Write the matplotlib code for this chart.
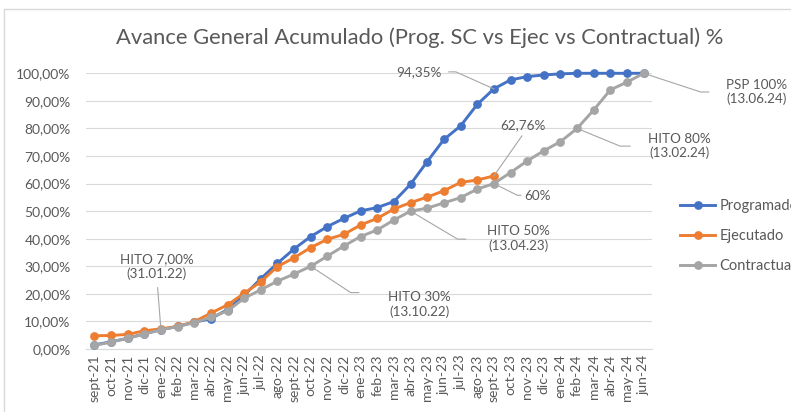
import matplotlib
matplotlib.use("Agg")
import matplotlib.pyplot as plt
from matplotlib.lines import Line2D
from matplotlib.patches import Rectangle
from matplotlib.transforms import IdentityTransform
from matplotlib.ticker import FuncFormatter, MultipleLocator

plt.rcParams['font.family'] = ['Lato', 'DejaVu Sans']

months = ['sept-21', 'oct-21', 'nov-21', 'dic-21', 'ene-22', 'feb-22', 'mar-22', 'abr-22',
          'may-22', 'jun-22', 'jul-22', 'ago-22', 'sept-22', 'oct-22', 'nov-22', 'dic-22',
          'ene-23', 'feb-23', 'mar-23', 'abr-23', 'may-23', 'jun-23', 'jul-23', 'ago-23',
          'sept-23', 'oct-23', 'nov-23', 'dic-23', 'ene-24', 'feb-24', 'mar-24', 'abr-24',
          'may-24', 'jun-24']

programado = [1.5, 2.6, 3.9, 5.5, 7.0, 8.2, 9.7, 11.0, 14.3, 19.5, 25.5, 31.1, 36.3, 40.8,
              44.4, 47.4, 50.1, 51.3, 53.5, 59.8, 68.0, 76.0, 80.9, 88.7, 94.35, 97.6, 98.8,
              99.4, 99.8, 100.0, 100.0, 100.0, 100.0, 100.0]
ejecutado = [4.8, 4.9, 5.3, 6.6, 7.3, 8.2, 9.9, 13.0, 16.0, 20.2, 24.4, 29.9, 33.1, 36.8,
             39.8, 41.6, 45.0, 47.4, 50.8, 53.1, 55.1, 57.4, 60.4, 61.3, 62.76]
contractual = [1.3, 2.5, 3.9, 5.4, 7.0, 8.1, 9.6, 11.5, 13.8, 18.4, 21.5, 24.6, 27.2, 30.0,
               33.7, 37.4, 40.8, 43.2, 46.8, 50.0, 51.1, 53.0, 54.9, 58.0, 60.0, 64.0, 68.2,
               71.9, 75.2, 80.0, 86.7, 94.0, 96.8, 100.0]

series_names = ['Programado', 'Ejecutado', 'Contractual']
colors = ['#4472C4', '#ED7D31', '#A5A5A5']
title = 'Avance General Acumulado (Prog. SC vs Ejec vs Contractual) %'

# labels: (series, index, text)
labels = [
    ('Programado', 24, '94,35%'),
    ('Ejecutado', 24, '62,76%'),
    ('Contractual', 24, '60%'),
    ('Contractual', 19, 'HITO 50%\n(13.04.23)'),
    ('Contractual', 13, 'HITO 30%\n(13.10.22)'),
    ('Contractual', 4, 'HITO 7,00%\n(31.01.22)'),
    ('Contractual', 29, 'HITO 80%\n(13.02.24)'),
    ('Contractual', 33, 'PSP 100%\n(13.06.24)'),
]
# leader paths (pixel offsets from the point, y up) and text centre offsets
label_style = [
    ([(-38, 17), (-45, 17)], (-75, 17)),
    ([(28, 40)], (29, 51)),
    ([(23.5, -11.7), (27, -11.7)], (44, -12.7)),
    ([(47, -28), (55, -28)], (108, -27.5)),
    ([(40, -26.3), (48, -26.3)], (109, -38.3)),
    ([(-3.3, 42)], (-4, 63.5)),
    ([(43, -17.7), (53, -17.7)], (102, -17.7)),
    ([(57, -18.7), (65, -18.7)], (113, -18.7)),
]

W, H = 791, 412
fig = plt.figure(figsize=(W / 100, H / 100), dpi=100)
ax = fig.add_axes([86 / W, 63 / H, (652 - 86) / W, (349 - 73.3) / H])

data = {'Programado': programado, 'Ejecutado': ejecutado, 'Contractual': contractual}
x_all = list(range(len(months)))
handles = []
for k, (name, col) in enumerate(zip(series_names, colors)):
    vals = [v / 100 for v in data[name]]
    h, = ax.plot(x_all[:len(vals)], vals, color=col, lw=2.1, marker='o', markersize=6.3,
                 markeredgewidth=0, label=name, zorder=3 + k, clip_on=False)
    handles.append(h)

ax.set_xlim(-0.5, len(months) - 0.5)
ax.set_ylim(0, 1)
ax.yaxis.set_major_locator(MultipleLocator(0.1))
ax.yaxis.set_major_formatter(FuncFormatter(lambda v, p: f"{v*100:.2f}%".replace('.', ',')))
ax.set_xticks(x_all)
ax.set_xticklabels(months, rotation=90)
ax.tick_params(axis='both', length=0, colors='#595959', labelsize=10)
ax.tick_params(axis='y', pad=11)
ax.tick_params(axis='x', pad=4)
ax.grid(axis='y', color='#D9D9D9', lw=0.8)
ax.set_axisbelow(True)
for s in ['top', 'right', 'left']:
    ax.spines[s].set_visible(False)
ax.spines['bottom'].set_color('#D9D9D9')
ax.spines['bottom'].set_linewidth(0.8)

fig.text(419.5 / W, 1 - 38 / H, title, ha='center', va='center', fontsize=15.8,
         color='#595959')

# leader lines and labels
for (name, idx, txt), (path, toff) in zip(labels, label_style):
    v = data[name][idx] / 100
    px, py = ax.transData.transform((idx, v))
    xs = [px] + [px + dx for dx, dy in path]
    ys = [py] + [py + dy for dx, dy in path]
    fig.add_artist(Line2D(xs, ys, transform=IdentityTransform(), color='#A6A6A6', lw=0.8,
                          zorder=2))
    fig.text(px + toff[0], py + toff[1], txt, transform=IdentityTransform(), ha='center',
             va='center', fontsize=9.7, color='#595959', linespacing=1.2, zorder=10)

ax.legend(handles=handles, loc='upper left', bbox_to_anchor=(680 / W, 1 - 199 / H),
          bbox_transform=fig.transFigure, frameon=False, borderpad=0, borderaxespad=0,
          handlelength=2.4, handletextpad=0.3, labelspacing=1.1, fontsize=10.5,
          labelcolor='#595959')

fig.add_artist(Rectangle((4 / W, -0.1), 1.2, 1.1 - 9 / H, transform=fig.transFigure,
                         fill=False, edgecolor='#D9D9D9', lw=1))

fig.savefig('out.png', dpi=100)
